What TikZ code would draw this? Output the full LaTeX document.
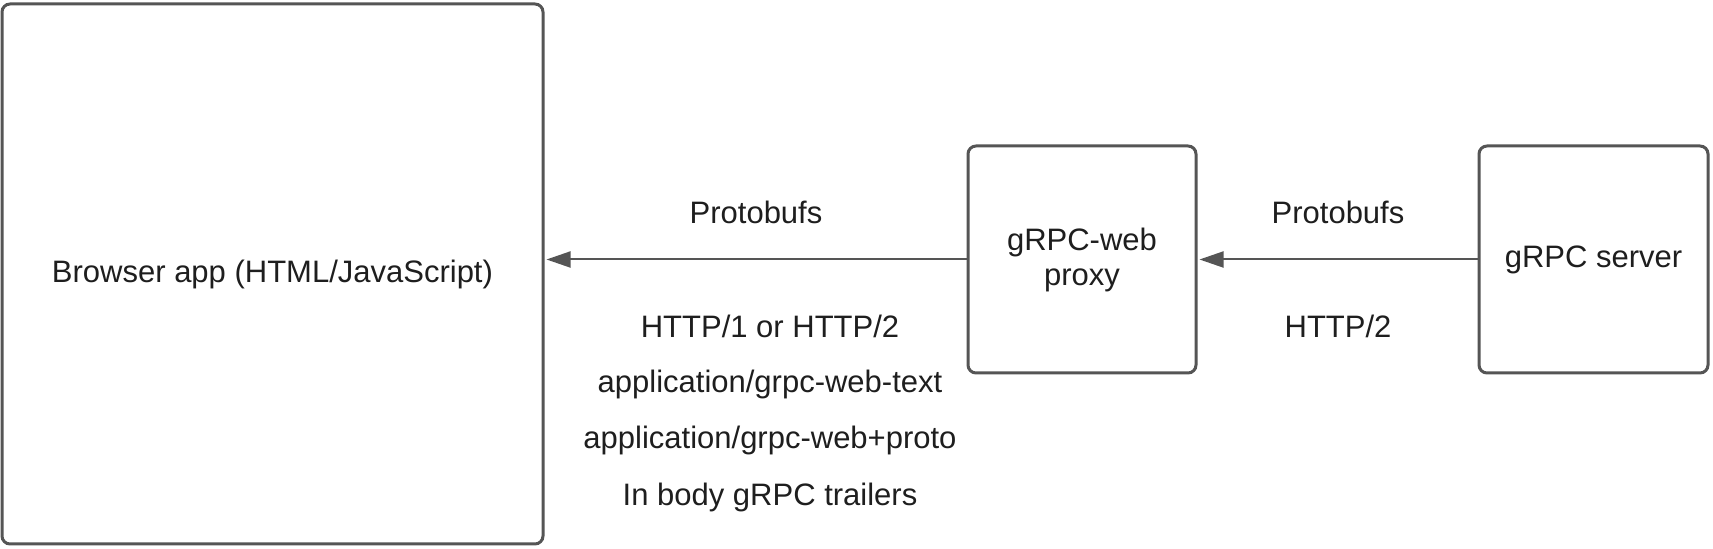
\documentclass[tikz,border=0pt]{standalone}
\usepackage{fontspec}
\setmainfont{Liberation Sans}
\usetikzlibrary{arrows.meta}
\definecolor{edgegray}{HTML}{555555}
\definecolor{txt}{HTML}{1E1E1E}
\tikzset{
  box/.style={draw=edgegray, line width=1.5pt, rounded corners=4pt, fill=white,
    text=txt, align=center, inner sep=0pt, font=\fontsize{15.5}{17.5}\selectfont},
  conn/.style={draw=edgegray, line width=1pt, -{Triangle[length=12pt,width=8pt]}},
  lbl/.style={anchor=base, text=txt, inner sep=0pt, font=\fontsize{15.5}{17.5}\selectfont}
}
\begin{document}
\begin{tikzpicture}[x=0.5pt,y=-0.5pt]
\useasboundingbox (0,0) rectangle (1713,549);
\node[box, minimum width=270.5pt, minimum height=270pt] (browser) at (272.5,274) {Browser app (HTML/JavaScript)};
\node[box, minimum width=114pt, minimum height=113.5pt] (proxy) at (1082,259.5) {gRPC-web\\proxy};
\node[box, minimum width=114.5pt, minimum height=113.5pt] (server) at (1593.5,259.5) {gRPC server};
\coordinate (bin) at (browser.east |- proxy.west);
\draw[conn] (proxy.west) -- ([xshift=1pt]bin);
\draw[conn] (server.west) -- ([xshift=1pt]proxy.east);
\node[lbl] (pl) at (756,224) {Protobufs};
\node[lbl] (l1) at (770,338) {HTTP/1 or HTTP/2};
\node[lbl] (l2) at (770,393) {application/grpc-web-text};
\node[lbl] (l3) at (770,449) {application/grpc-web+proto};
\node[lbl] (l4) at (770,506) {In body gRPC trailers};
\node[lbl] (pr) at (1338,224) {Protobufs};
\node[lbl] (hr) at (1338,338) {HTTP/2};
\end{tikzpicture}
\end{document}
